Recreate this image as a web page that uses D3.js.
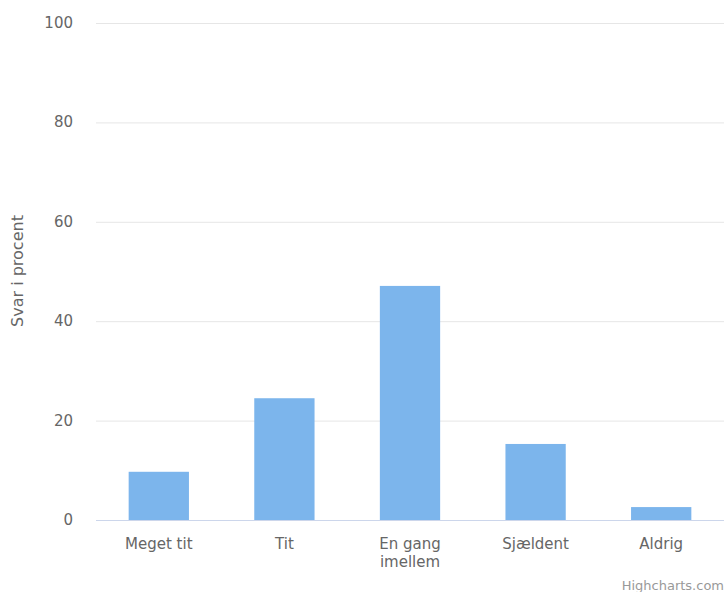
<!DOCTYPE html>
<html><head><meta charset="utf-8">
<script src="https://cdn.jsdelivr.net/npm/d3@7"></script>
<style>body{margin:0;background:#fff}svg{display:block;font-family:"DejaVu Sans",sans-serif}</style>
</head><body><svg id="c" width="724" height="592"></svg>
<script>
const categories = ["Meget tit","Tit","En gang imellem","Sjældent","Aldrig"];
const values = [9.7, 24.5, 47.1, 15.3, 2.6];
const yTicks = [0,20,40,60,80,100];
const yTitle = "Svar i procent";

const svg = d3.select("#c");
const L=96, R=724, T=23, B=520;
const x = d3.scaleBand().domain(categories).range([L,R]).paddingInner(0.52).paddingOuter(0.26);
const y = d3.scaleLinear().domain([0,100]).range([B,T]);

svg.append("g").selectAll("line").data(yTicks.filter(d=>d>0)).join("line")
  .attr("x1",L).attr("x2",R).attr("y1",d=>y(d)+0.5).attr("y2",d=>y(d)+0.5)
  .attr("stroke","#e6e6e6");
svg.append("g").selectAll("text").data(yTicks).join("text")
  .attr("x",73).attr("y",d=>y(d)+5).attr("text-anchor","end")
  .attr("fill","#666").attr("font-size","15px").text(d=>d);

svg.append("g").selectAll("rect").data(values).join("rect")
  .attr("x",(d,i)=>x(categories[i])).attr("width",x.bandwidth())
  .attr("y",d=>y(d)).attr("height",d=>B-y(d)).attr("fill","#7cb5ec");

svg.append("line").attr("x1",L).attr("x2",R).attr("y1",B+0.5).attr("y2",B+0.5).attr("stroke","#ccd6eb");

const xl = svg.append("g").selectAll("text").data(categories).join("text")
  .attr("text-anchor","middle").attr("fill","#666").attr("font-size","15px")
  .attr("transform",d=>`translate(${x(d)+x.bandwidth()/2},549)`);
xl.each(function(d){
  const t=d3.select(this);
  const lines = d==="En gang imellem" ? ["En gang","imellem"] : [d];
  lines.forEach((s,i)=>t.append("tspan").attr("x",0).attr("dy",i?18:0).text(s));
});

svg.append("text").attr("transform","translate(23,271) rotate(-90)")
  .attr("text-anchor","middle").attr("fill","#666").attr("font-size","16px").text(yTitle);

svg.append("text").attr("x",724).attr("y",590).attr("text-anchor","end")
  .attr("fill","#999").attr("font-size","13px").text("Highcharts.com");
</script></body></html>
